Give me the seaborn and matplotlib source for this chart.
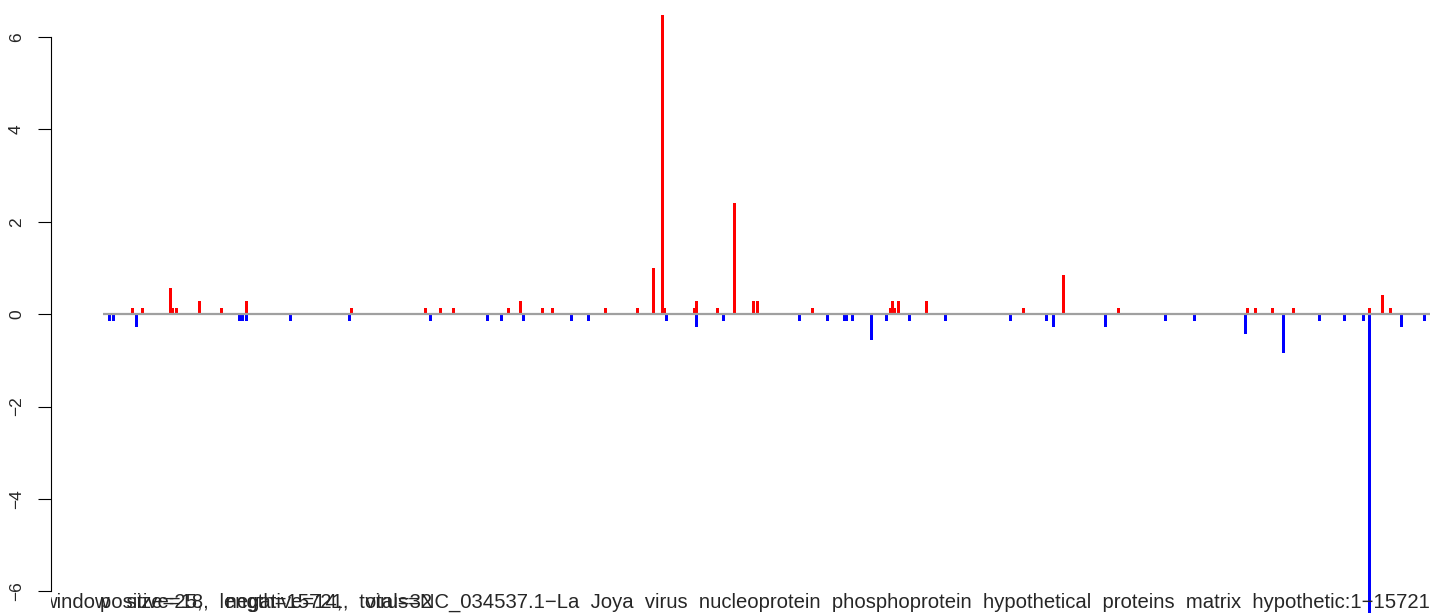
import numpy as np
import pandas as pd
import matplotlib
matplotlib.use("Agg")
import matplotlib.pyplot as plt
import seaborn as sns

# データ (ゲノム上の位置と値)
# --------------------------------
genome_len = 15721
pos_x = [347, 466, 797, 821, 869, 1141, 1402, 1698, 2942, 3819, 3997, 4151,
         4803, 4945, 5206, 5324, 5952, 6332, 6521, 6628, 6651, 7007, 7031,
         7279, 7481, 7706, 7753, 8405, 9330, 9353, 9377, 9424, 9756, 10906,
         11380, 12031, 13560, 13655, 13856, 14105, 15006, 15160, 15255]
pos_y = [0.14, 0.14, 0.56, 0.14, 0.14, 0.28, 0.14, 0.28, 0.14, 0.14, 0.14, 0.14,
         0.14, 0.28, 0.14, 0.14, 0.14, 0.14, 1.0, 6.47, 0.14, 0.14, 0.28,
         0.14, 2.40, 0.28, 0.28, 0.14, 0.14, 0.28, 0.14, 0.28, 0.28, 0.14,
         0.84, 0.14, 0.14, 0.14, 0.14, 0.14, 0.14, 0.42, 0.14]
neg_x = [75, 122, 395, 1623, 1659, 1698, 2219, 2919, 3879, 4554, 4720, 4981,
         5549, 5751, 6675, 7031, 7351, 8251, 8583, 8784, 8808, 8879, 9104,
         9282, 9555, 9981, 10751, 11178, 11261, 11877, 12588, 12932, 13536,
         13987, 14413, 14709, 14934, 15006, 15385, 15657]
neg_y = [-0.14, -0.14, -0.28, -0.14, -0.14, -0.14, -0.14, -0.14, -0.14, -0.14, -0.14, -0.14,
         -0.14, -0.14, -0.14, -0.28, -0.14, -0.14, -0.14, -0.14, -0.14, -0.14, -0.56,
         -0.14, -0.14, -0.14, -0.14, -0.14, -0.28, -0.28, -0.14, -0.14, -0.42,
         -0.84, -0.14, -0.14, -0.14, -7.0, -0.28, -0.14]
y_ticks = [-6, -4, -2, 0, 2, 4, 6]

title_main = ("window   size=25,   length=15721,   virus=NC_034537.1\u2212La  Joya  virus  nucleoprotein  "
              "phosphoprotein  hypothetical  proteins  matrix  hypothetic:1\u221215721")
title_count = "positive=18,   negative=14,   total=32"

df_pos = pd.DataFrame({"x": pos_x, "y": pos_y})
df_neg = pd.DataFrame({"x": neg_x, "y": neg_y})

# %%
# グラフ描画
# --------------------------------
sns.set_style("white")
plt.rcParams["font.family"] = ["Liberation Sans", "DejaVu Sans"]

fig = plt.figure(figsize=(14.33, 6.13), dpi=100)
ax = fig.add_axes([51 / 1433, 0, 1 - 51 / 1433, 1])

sns.barplot(data=df_pos, x="x", y="y", native_scale=True, color="#ff0000",
            saturation=1, errorbar=None, linewidth=0, ax=ax)
sns.barplot(data=df_neg, x="x", y="y", native_scale=True, color="#0000ff",
            saturation=1, errorbar=None, linewidth=0, ax=ax)

# 棒の幅をそろえる
bar_w = 36
for p in ax.patches:
    c = p.get_x() + p.get_width() / 2
    p.set_width(bar_w)
    p.set_x(c - bar_w / 2)

ax.hlines(0, 0, genome_len, color="#a0a0a0", lw=1.6, zorder=3)

ax.set_xlim(-616, 15761)
ax.set_ylim(-6.47, 6.80)
ax.set_xticks([])
ax.set_xlabel("")
ax.set_ylabel("")
ax.set_yticks(y_ticks)
ax.set_yticklabels([str(t).replace("-", "\u2212") for t in y_ticks],
                   rotation=90, va="center", fontsize=12.5)
ax.tick_params(axis="y", length=9.5, width=0.8, pad=10, left=True, color="black")
for s in ["top", "right", "bottom"]:
    ax.spines[s].set_visible(False)
ax.spines["left"].set_bounds(-6, 6)
ax.spines["left"].set_linewidth(0.8)
ax.spines["left"].set_color("black")

# 下のテキストはプロット領域でクリップされる
ax.text(1379 / 1382, 1 / 613, title_main, transform=ax.transAxes,
        ha="right", va="bottom", fontsize=14.6, clip_on=True)
ax.text(49 / 1382, 1 / 613, title_count, transform=ax.transAxes,
        ha="left", va="bottom", fontsize=14.6, clip_on=True)

fig.savefig("out.png", dpi=100)
